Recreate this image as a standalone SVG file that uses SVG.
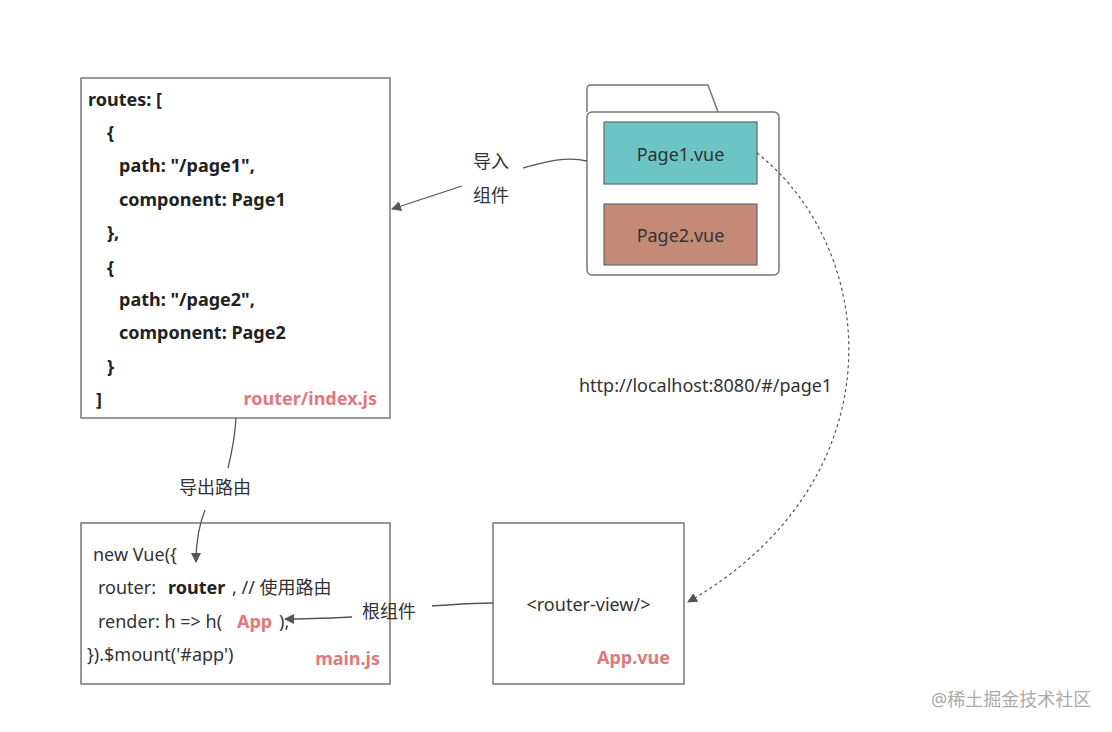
<svg xmlns="http://www.w3.org/2000/svg" width="1112" height="732" viewBox="0 0 1112 732">
<defs>
<marker id="arr" viewBox="0 0 10 10" refX="9" refY="5" markerWidth="10" markerHeight="10" markerUnits="userSpaceOnUse" orient="auto">
<path d="M0,0 L10,5 L0,10 z" fill="#555"/>
</marker>
<style>
.box{fill:#fff;stroke:#777;stroke-width:1.5}
.t{font-family:"Noto Sans","Noto Sans CJK SC",sans-serif;font-size:18px;fill:#333}
.b{font-weight:bold;fill:#222}
.r{font-weight:bold;fill:#e0797d}
.c{fill:none;stroke:#555;stroke-width:1.3}
</style>
</defs>
<rect width="1112" height="732" fill="#fff"/>
<g id="router-index">
<rect class="box" x="81" y="78" width="309" height="340"/>
<text class="t b" x="88" y="106">routes: [</text>
<text class="t b" x="107" y="139">{</text>
<text class="t b" x="119" y="172">path: "/page1",</text>
<text class="t b" x="119" y="206">component: Page1</text>
<text class="t b" x="107" y="239">},</text>
<text class="t b" x="107" y="274">{</text>
<text class="t b" x="119" y="306">path: "/page2",</text>
<text class="t b" x="119" y="339">component: Page2</text>
<text class="t b" x="107" y="373">}</text>
<text class="t b" x="96" y="406">]</text>
<text class="t r" x="377" y="405" text-anchor="end">router/index.js</text>
</g>
<g id="folder">
<path d="M587,112 L587,89 Q587,85 591,85 L708,85 L718,112" fill="#fff" stroke="#777" stroke-width="1.5"/>
<rect x="587" y="112" width="192" height="163" rx="5" fill="#fff" stroke="#777" stroke-width="1.5"/>
</g>
<g id="page1">
<rect x="604" y="122" width="153" height="62" fill="#6cc5c4" stroke="#666" stroke-width="1.2"/>
<text class="t" x="680.5" y="161" text-anchor="middle">Page1.vue</text>
</g>
<g id="page2">
<rect x="604" y="204" width="153" height="61" fill="#c48a76" stroke="#666" stroke-width="1.2"/>
<text class="t" x="680.5" y="242" text-anchor="middle">Page2.vue</text>
</g>
<g id="main-js">
<rect class="box" x="81" y="523" width="309" height="161"/>
<text class="t" x="93" y="561">new Vue({</text>
<text class="t" x="98" y="594">router: </text>
<text class="t b" x="168" y="594">router</text>
<text class="t" x="232" y="594">, // 使用路由</text>
<text class="t" x="98" y="628">render: h =&gt; h(</text>
<text class="t r" x="237" y="628">App</text>
<text class="t" x="279" y="628">),</text>
<text class="t" x="87" y="661">}).$mount('#app')</text>
<text class="t r" x="380" y="665" text-anchor="end">main.js</text>
</g>
<g id="app-vue">
<rect class="box" x="493" y="523" width="191" height="161"/>
<text class="t" x="588.5" y="611" text-anchor="middle">&lt;router-view/&gt;</text>
<text class="t r" x="670" y="664" text-anchor="end">App.vue</text>
</g>
<g id="connectors">
<path class="c" d="M587,161 C565,156 545,162 523,168"/>
<path class="c" d="M462,186 L392,209" marker-end="url(#arr)"/>
<text class="t" x="473" y="168">导入</text>
<text class="t" x="473" y="202">组件</text>
<path class="c" d="M236,418 C235,435 232,452 228,468"/>
<path class="c" d="M205,510 C199,525 196,540 196,562" marker-end="url(#arr)"/>
<text class="t" x="179" y="494">导出路由</text>
<path class="c" d="M493,603 C470,603 450,605 432,606"/>
<path class="c" d="M352,617 C330,618 305,619 285,619" marker-end="url(#arr)"/>
<text class="t" x="362" y="618">根组件</text>
<path d="M757,153 C880,250 900,480 688,602" fill="none" stroke="#555" stroke-width="1.2" stroke-dasharray="3,3" marker-end="url(#arr)"/>
<text class="t" x="579" y="392">http://localhost:8080/#/page1</text>
</g>
<text x="931" y="706" style="font-family:'Noto Sans','Noto Sans CJK SC',sans-serif;font-size:18px;fill:#aaa">@稀土掘金技术社区</text>
</svg>
